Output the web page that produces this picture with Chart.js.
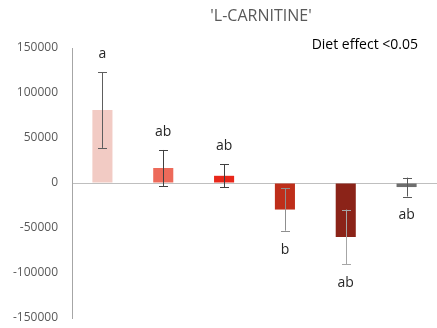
<!DOCTYPE html>
<html>
<head>
<meta charset="utf-8">
<script src="https://cdn.jsdelivr.net/npm/chart.js@4"></script>
<style>
  html, body { margin: 0; padding: 0; background: #fff; overflow: hidden; }
  canvas { display: block; }
</style>
</head>
<body>
<canvas id="chart" width="437" height="328"></canvas>
<script>
// diet groups (no visible labels on the x axis)
const groups = ["D1", "D2", "D3", "D4", "D5", "D6"];
const means = [81000, 16700, 8000, -29500, -60000, -4500];
const errors = [42000, 20000, 12800, 23500, 30500, 10500];
const letters = ["a", "ab", "ab", "b", "ab", "ab"];
const yTicks = [-150000, -100000, -50000, 0, 50000, 100000, 150000];

const barColors = ["#f2cbc4", "#ed6a5a", "#e8271a", "#be2e1a", "#8b2318", "#6e6e6e"];
const errColors = ["#5e5e5e", "#404040", "#404040", "#8f8f8f", "#a6a6a6", "#595959"];

// error bars + significance letters + title/notes
const extras = {
  id: "extras",
  afterDatasetsDraw(chart) {
    const ctx = chart.ctx;
    const y = chart.scales.y;
    const meta = chart.getDatasetMeta(0);
    ctx.save();
    meta.data.forEach((bar, i) => {
      const hi = y.getPixelForValue(means[i] + errors[i]);
      const lo = y.getPixelForValue(means[i] - errors[i]);
      const x = Math.round(bar.x) + 0.5;
      ctx.strokeStyle = errColors[i];
      ctx.lineWidth = 1;
      ctx.beginPath();
      ctx.moveTo(x, hi); ctx.lineTo(x, lo);
      ctx.moveTo(x - 4.5, Math.round(hi) + 0.5); ctx.lineTo(x + 4.5, Math.round(hi) + 0.5);
      ctx.moveTo(x - 4.5, Math.round(lo) + 0.5); ctx.lineTo(x + 4.5, Math.round(lo) + 0.5);
      ctx.stroke();

      ctx.fillStyle = "#262626";
      ctx.font = "14px 'Open Sans'";
      ctx.textAlign = "center";
      ctx.textBaseline = "middle";
      if (means[i] >= 0) ctx.fillText(letters[i], bar.x, hi - 18);
      else ctx.fillText(letters[i], bar.x, lo + 19);
    });

    ctx.fillStyle = "#595959";
    ctx.font = "16px 'Open Sans'";
    ctx.textAlign = "center";
    ctx.textBaseline = "middle";
    ctx.fillText("'L-CARNITINE'", 261, 16);

    ctx.fillStyle = "#000";
    ctx.font = "14px 'Open Sans'";
    ctx.textAlign = "right";
    ctx.fillText("Diet effect <0.05", 418, 45);
    ctx.restore();
  }
};

new Chart(document.getElementById("chart"), {
  type: "bar",
  data: {
    labels: groups,
    datasets: [{
      data: means,
      backgroundColor: barColors,
      borderWidth: 0,
      barPercentage: 0.33,
      categoryPercentage: 1
    }]
  },
  options: {
    responsive: false,
    animation: false,
    layout: { padding: { top: 48, bottom: 10, left: 0, right: 0 } },
    plugins: {
      legend: { display: false },
      title: { display: false },
      tooltip: { enabled: false }
    },
    scales: {
      x: { display: false },
      y: {
        min: -150000,
        max: 150000,
        afterFit: (scale) => {
          scale.width = 72;
          scale.paddingTop = 0;
          scale.paddingBottom = 0;
        },
        afterBuildTicks: (scale) => { scale.ticks = yTicks.map(v => ({ value: v })); },
        border: { display: true, color: "#a6a6a6", width: 1 },
        grid: {
          drawTicks: false,
          color: (c) => (c.tick && c.tick.value === 0 ? "#bfbfbf" : "rgba(0,0,0,0)"),
          lineWidth: 1
        },
        ticks: {
          padding: 14,
          color: "#595959",
          font: { family: "'Open Sans'", size: 12 },
          callback: (v) => String(v)
        }
      }
    }
  },
  plugins: [extras]
});
</script>
</body>
</html>
